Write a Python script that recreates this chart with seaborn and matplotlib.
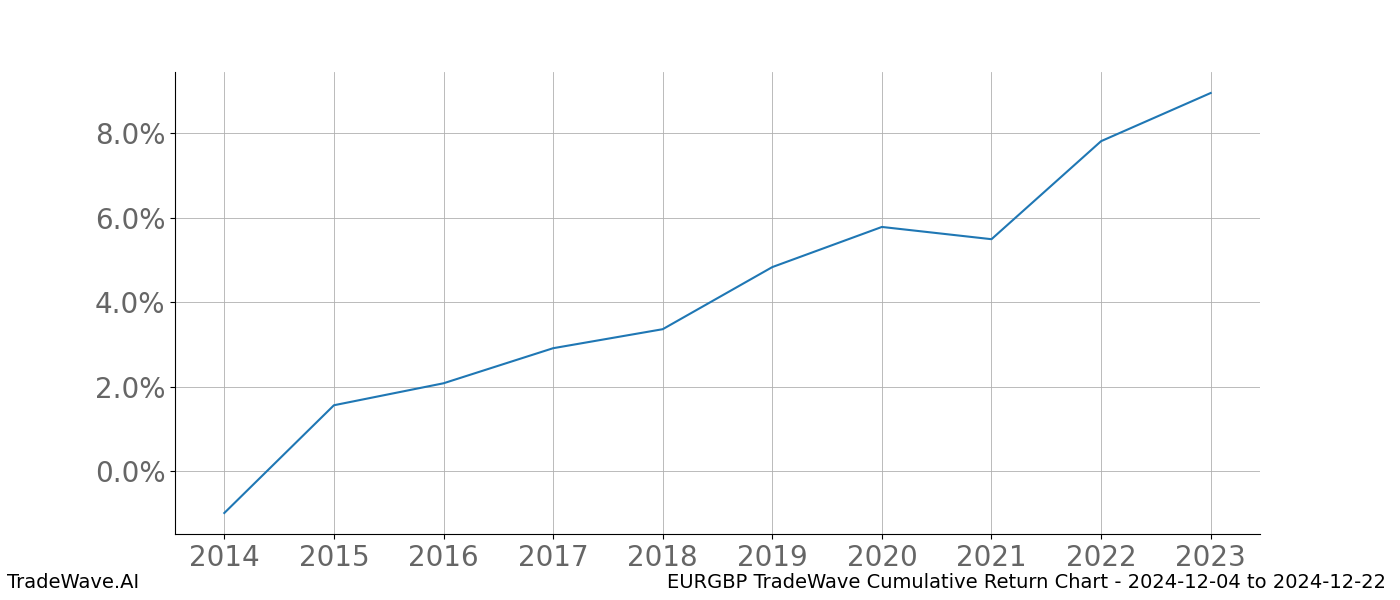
import matplotlib
matplotlib.use("Agg")
import matplotlib.pyplot as plt
import seaborn as sns
import pandas as pd
from matplotlib.ticker import FuncFormatter

years = [2014, 2015, 2016, 2017, 2018, 2019, 2020, 2021, 2022, 2023]
returns = [-0.99, 1.56, 2.08, 2.91, 3.36, 4.83, 5.78, 5.49, 7.81, 8.95]

df = pd.DataFrame({"year": years, "ret": returns})
fig, ax = plt.subplots(figsize=(14, 6), dpi=100)
sns.lineplot(data=df, x="year", y="ret", ax=ax, color="#1f77b4", linewidth=1.5)
ax.set_xticks(years)
ax.set_yticks([0, 2, 4, 6, 8])
ax.yaxis.set_major_formatter(FuncFormatter(lambda v, p: f"{v:.1f}%"))
ax.grid(True, color="#b0b0b0", linewidth=0.6)
ax.tick_params(labelsize=20, colors="#666666", labelcolor="#666666")
ax.tick_params(color="black")
ax.set_xlabel("")
ax.set_ylabel("")
for s in ["top", "right"]:
    ax.spines[s].set_visible(False)
fig.subplots_adjust(left=0.125, right=0.9, top=0.88, bottom=0.11)
fig.text(0.005, 0.02, "TradeWave.AI", fontsize=14)
fig.text(0.99, 0.02, "EURGBP TradeWave Cumulative Return Chart - 2024-12-04 to 2024-12-22", fontsize=14, ha="right")
fig.savefig("out.png", dpi=100)
